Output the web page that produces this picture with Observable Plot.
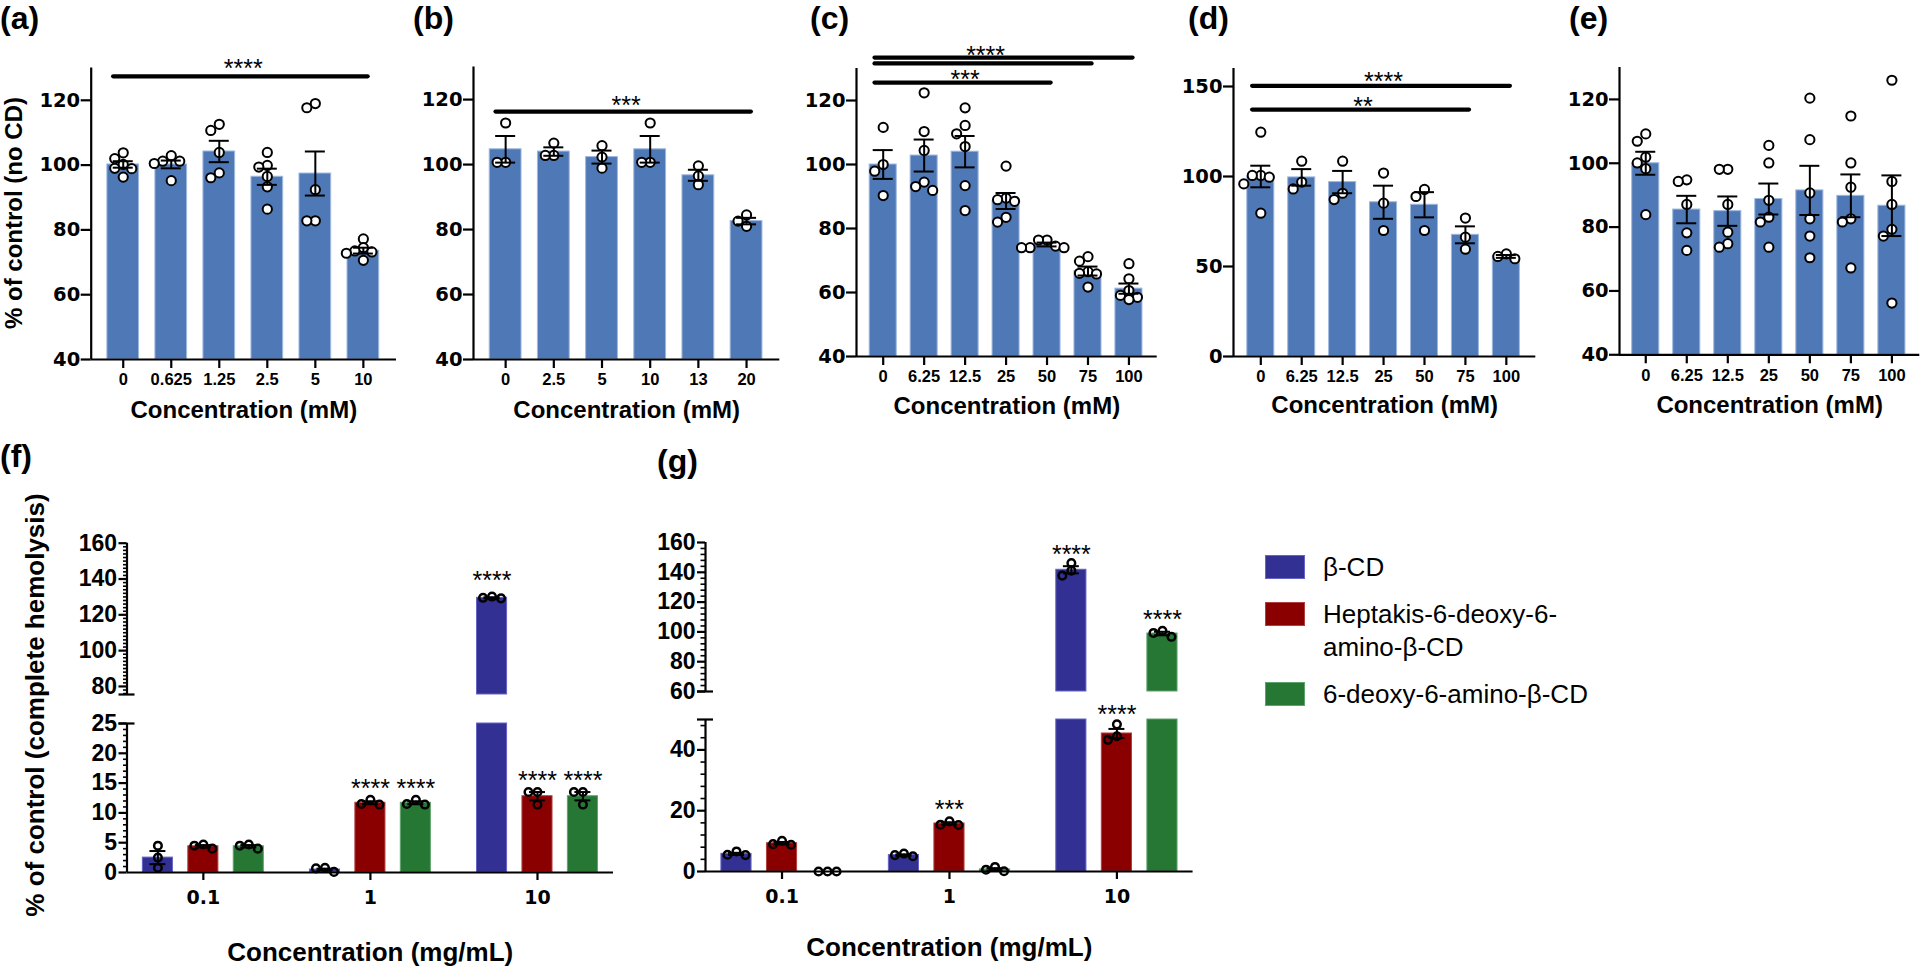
<!DOCTYPE html>
<html><head><meta charset="utf-8">
<script src="https://cdn.jsdelivr.net/npm/d3@7"></script>
<script src="https://cdn.jsdelivr.net/npm/@observablehq/plot@0.6"></script>
<style>
html,body{margin:0;padding:0;background:#fff;}
#root{position:relative;width:1920px;height:976px;overflow:hidden;font-family:"Liberation Sans",Arial,Helvetica,sans-serif;color:#000;}
.plab{position:absolute;font-weight:bold;font-size:32px;line-height:36px;white-space:nowrap;}
.ytitle{position:absolute;font-weight:bold;white-space:nowrap;transform:translate(-50%,-50%) rotate(-90deg);}
.lbox{position:absolute;width:40px;height:24px;box-sizing:border-box;}
.ltext{position:absolute;font-size:26px;line-height:33px;white-space:pre;}
</style></head><body><div id="root"></div><script>
// ---------------- DATA ----------------
// (a)
const aCats = ["0","0.625","1.25","2.5","5","10"];
const aMeans = [100.2, 100.2, 104.2, 96.4, 97.4, 73.6];
const aSem = [1.0, 1.2, 3.3, 2.5, 6.8, 0.9];
const aPoints = [
  [103.8, 102.0, 100.2, 99.0, 98.9, 96.3],
  [102.9, 101.2, 101.2, 100.5, 95.2],
  [112.6, 110.7, 103.9, 97.6, 96.1],
  [103.9, 99.9, 99.4, 96.5, 93.3, 86.4],
  [119.0, 117.7, 92.4, 82.8, 82.8],
  [77.2, 74.5, 73.5, 73.2, 72.8, 70.6]
];
const aSig = [[0, 5, 127.4]];
const aStars = [[0, 5, 131.4, "****"]];
// (b)
const bCats = ["0","2.5","5","10","13","20"];
const bMeans = [104.7, 104.0, 102.3, 104.7, 96.7, 82.6];
const bSem = [4.1, 1.3, 2.0, 4.1, 1.7, 1.0];
const bPoints = [
  [112.8, 100.7, 100.7],
  [106.6, 102.8, 102.8],
  [105.8, 102.3, 98.9],
  [112.8, 100.7, 100.7],
  [99.6, 96.5, 93.8],
  [84.5, 82.6, 81.0]
];
const bSig = [[0, 5, 116.3]];
const bStars = [[0, 5, 120.0, "***"]];
// (c)
const cCats = ["0","6.25","12.5","25","50","75","100"];
const cMeans = [100.0, 102.8, 104.0, 88.6, 75.0, 66.7, 61.2];
const cSem = [4.5, 5.0, 4.9, 2.5, 0.6, 1.4, 1.6];
const cPoints = [
  [111.6, 100.0, 97.9, 90.3],
  [122.4, 110.3, 104.4, 94.5, 93.1, 91.9],
  [117.7, 112.2, 109.6, 105.6, 93.4, 85.6],
  [99.5, 89.5, 89.0, 88.5, 83.5, 82.0],
  [76.4, 76.4, 74.5, 74.0, 74.0, 74.0],
  [71.2, 69.8, 66.5, 66.0, 65.8, 61.7],
  [69.0, 64.3, 60.6, 59.1, 58.5, 57.8]
];
const cSig = [[0, 6, 133.4], [0, 5, 131.6], [0, 4, 125.6]];
const cStars = [[0, 5, 135.9, "****"], [0, 4, 128.4, "***"]];
// (d)
const dCats = ["0","6.25","12.5","25","50","75","100"];
const dMeans = [100.0, 99.5, 96.9, 85.7, 84.3, 67.6, 55.6];
const dSem = [6.0, 4.6, 6.2, 9.2, 7.0, 4.7, 0.8];
const dPoints = [
  [124.6, 100.6, 100.6, 99.6, 95.9, 79.6],
  [108.5, 96.9, 93.1],
  [108.5, 90.7, 87.2],
  [101.9, 85.2, 70.0],
  [92.8, 88.9, 70.0],
  [76.9, 66.3, 59.6],
  [57.0, 55.6, 54.3]
];
const dSig = [[0, 6, 150.4], [0, 5, 137.2]];
const dStars = [[0, 6, 156.0, "****"], [0, 5, 142.2, "**"]];
// (e)
const eCats = ["0","6.25","12.5","25","50","75","100"];
const eMeans = [100.0, 85.5, 85.0, 88.8, 91.5, 89.8, 86.7];
const eSem = [3.6, 4.3, 4.6, 4.85, 7.7, 6.7, 9.5];
const ePoints = [
  [109.2, 106.9, 101.9, 100.1, 98.3, 83.9],
  [94.8, 94.3, 87.1, 78.2, 72.7],
  [98.1, 98.1, 87.1, 78.4, 74.8, 73.7],
  [105.6, 100.1, 88.4, 83.1, 81.6, 73.7],
  [120.4, 107.4, 90.7, 82.6, 77.2, 70.4],
  [114.8, 100.1, 92.5, 82.6, 81.6, 67.2],
  [126.0, 94.3, 87.1, 79.3, 77.2, 56.2]
];
// (f) and (g): series x group
const groups = ["0.1", "1", "10"];
const seriesNames = ["β-CD", "Heptakis-6-deoxy-6-amino-β-CD", "6-deoxy-6-amino-β-CD"];
const legendLabels = ["β-CD", "Heptakis-6-deoxy-6-\namino-β-CD", "6-deoxy-6-amino-β-CD"];
const fMeans = [[2.5, 0.5, 129.5], [4.4, 11.7, 12.8], [4.4, 11.7, 12.8]];
const fSem = [[1.1, 0.15, 0.3], [0.2, 0.25, 0.7], [0.2, 0.25, 0.7]];
const fPoints = [
  [[4.5, 2.5, 0.8], [0.1, 0.8, 0.7], [130.2, 129.2, 129.5]],
  [[4.0, 4.7, 4.5], [11.4, 12.2, 11.5], [13.5, 11.4, 13.5]],
  [[4.0, 4.7, 4.5], [11.4, 12.2, 11.5], [13.5, 11.4, 13.5]]
];
const fStars = [[1, 1, 15.0, "****"], [2, 1, 15.0, "****"], [1, 2, 16.4, "****"], [2, 2, 16.4, "****"], [0, 2, 142.0, "****"]];
const gMeans = [[5.8, 5.4, 141.7], [9.3, 15.8, 45.4], [0, 0.7, 98.9]];
const gSem = [[0.35, 0.25, 2.4], [0.4, 0.4, 1.5], [0, 0.4, 1.2]];
const gPoints = [
  [[6.6, 5.5, 5.4], [5.4, 5.9, 5.0], [146.2, 137.8, 141.1]],
  [[10.1, 8.8, 9.0], [16.5, 15.4, 15.3], [48.4, 43.3, 44.5]],
  [[0, 0, 0], [0.1, 1.5, 0.6], [100.7, 96.7, 99.3]]
];
const gStars = [[1, 1, 22.2, "***"], [0, 2, 155.6, "****"], [1, 2, 53.5, "****"], [2, 2, 112.0, "****"]];

// ---------------- STYLE ----------------
const SANS = "Liberation Sans, Arial, Helvetica, sans-serif";
const WIDE = "DejaVu Sans, Verdana, sans-serif";
const BAR = "#4f78b6", BAR_EDGE = "#9fb8de";
const SER_COLORS = ["#323092", "#8a0000", "#267634"];
const SER_EDGE = ["#6664c4", "#b04040", "#5fa36c"];
const AXW = 2.2;
const root = document.getElementById("root");

function place(el, left, top) {
  el.style.position = "absolute";
  el.style.left = left + "px";
  el.style.top = top + "px";
  root.appendChild(el);
}

// horizontal spreading of overlapping points (pixel units)
function swarm(vals, pyu, minDist, s) {
  const order = vals.map((v, i) => i).sort((a, b) => vals[b] - vals[a]);
  const placed = [], offs = vals.map(() => 0);
  const cands = [0];
  for (let k = 1; k < 6; k++) cands.push(-k * s, k * s);
  for (const i of order) {
    const py = -vals[i] * pyu;
    for (const o of cands) {
      if (placed.every(p => Math.hypot(p.x - o, p.y - py) >= minDist)) {
        offs[i] = o; placed.push({x: o, y: py}); break;
      }
    }
  }
  return offs;
}

function topPanel(c) {
  const H = 440;
  const step = (c.x1 - c.x0) / (c.xDomain[1] - c.xDomain[0]);
  const pyu = (c.y1 - c.y0) / (c.yDomain[1] - c.yDomain[0]);
  const bars = c.cats.map((k, i) => ({i, m: c.means[i], s: c.sem[i]}));
  const dots = [];
  c.points.forEach((vals, i) => {
    const offs = swarm(vals, pyu, 8.5, 8.5);
    vals.forEach((v, j) => dots.push({px: i + offs[j] / step, py: v}));
  });
  const hw = 0.33, cap = 10 / step;
  const sigData = (c.sig || []).map(([f, t, y]) => ({f, t, y}));
  const starData = (c.stars || []).map(([f, t, y, label]) => ({xm: (f + t) / 2, y, label}));
  const plot = Plot.plot({
    width: c.width, height: H,
    marginLeft: c.x0 - c.left, marginRight: c.left + c.width - c.x1,
    marginTop: c.y0, marginBottom: H - c.y1,
    x: {type: "linear", domain: c.xDomain, label: null},
    y: {type: "linear", domain: c.yDomain, label: null},
    style: {background: "transparent", overflow: "visible", fontFamily: SANS, color: "black"},
    marks: [
      Plot.rectY(bars, {x1: d => d.i - hw, x2: d => d.i + hw, y1: c.yDomain[0], y2: "m", fill: BAR, stroke: BAR_EDGE, strokeWidth: 1}),
      Plot.ruleX([c.xDomain[0]], {stroke: "black", strokeWidth: AXW}),
      Plot.ruleY([c.yDomain[0]], {stroke: "black", strokeWidth: AXW}),
      Plot.axisY(c.yTicks, {tickSize: 10, tickPadding: 1, strokeWidth: AXW, fontFamily: WIDE, fontWeight: "bold", fontSize: 19.5, label: null}),
      Plot.axisX(d3.range(c.cats.length), {tickSize: 9, tickPadding: 5, strokeWidth: AXW, tickFormat: i => c.cats[i], fontFamily: SANS, fontWeight: "bold", fontSize: 16.5, label: null}),
      Plot.dot(dots, {x: "px", y: "py", r: 4.6, fill: "white", stroke: "black", strokeWidth: 2}),
      Plot.ruleX(bars, {x: "i", y1: d => d.m - d.s, y2: d => d.m + d.s, stroke: "black", strokeWidth: 2}),
      Plot.ruleY(bars, {y: d => d.m + d.s, x1: d => d.i - cap, x2: d => d.i + cap, stroke: "black", strokeWidth: 2}),
      Plot.ruleY(bars, {y: d => d.m - d.s, x1: d => d.i - cap, x2: d => d.i + cap, stroke: "black", strokeWidth: 2}),
      Plot.ruleY(sigData, {y: "y", x1: d => d.f - 0.2, x2: d => d.t + 0.1, stroke: "black", strokeWidth: 4.2, strokeLinecap: "round"}),
      Plot.text(starData, {x: "xm", y: "y", text: "label", fontSize: 25, dy: 6, fontFamily: SANS, fill: "black"}),
      Plot.text(["Concentration (mM)"], {frameAnchor: "bottom", dy: c.titleDy, fontSize: 24, fontWeight: "bold", fontFamily: SANS, fill: "black"})
    ]
  });
  place(plot, c.left, 0);
}

function hemoSeg(P, seg, isLower) {
  const step = (P.x1 - P.x0) / (P.xDomain[1] - P.xDomain[0]);
  const pyu = (seg.y1 - seg.y0) / (seg.domain[1] - seg.domain[0]);
  const [lo, hi] = seg.domain;
  const split = P.segs[0].domain[0];
  const bars = [], errs = [], dots = [];
  P.means.forEach((row, s) => row.forEach((m, g) => {
    const cx = g + (s - 1) * 0.272;
    if (m > lo) bars.push({cx, top: Math.min(m, hi), s});
    if (m >= lo && m <= hi) {
      if (P.sem[s][g] > 0) errs.push({cx, m, e: P.sem[s][g]});
      const vals = P.points[s][g];
      const offs = swarm(vals, pyu, 7.5, 9);
      vals.forEach((v, j) => dots.push({x: cx + offs[j] / step, y: v}));
    }
  }));
  const stars = P.stars
    .filter(([s, g, y]) => isLower ? y < split : y >= split)
    .map(([s, g, y, label]) => ({cx: g + (s - 1) * 0.272, y, label}));
  const bw = 0.09, cap = 8 / step, brk = 8 / step, x0d = P.xDomain[0];
  const marks = [
    ...[0, 1, 2].map(s => Plot.rectY(bars.filter(b => b.s === s), {x1: b => b.cx - bw, x2: b => b.cx + bw, y1: lo, y2: "top", fill: SER_COLORS[s], stroke: SER_EDGE[s], strokeWidth: 1})),
    Plot.ruleX([x0d], {stroke: "black", strokeWidth: AXW}),
    Plot.ruleY([isLower ? hi : lo], {x1: x0d - brk, x2: x0d + brk, stroke: "black", strokeWidth: AXW}),
    Plot.axisY(seg.majors, {tickSize: 8, tickPadding: 2, strokeWidth: AXW, fontFamily: SANS, fontWeight: "bold", fontSize: 23, label: null}),
    Plot.axisY(seg.minors, {tickSize: seg.minorSize, tickPadding: 0, strokeWidth: 1.6, tickFormat: () => "", label: null}),
    Plot.dot(dots, {x: "x", y: "y", r: 3.8, fill: "none", stroke: "black", strokeWidth: 2.5}),
    Plot.ruleX(errs, {x: "cx", y1: e => e.m - e.e, y2: e => e.m + e.e, stroke: "black", strokeWidth: 2}),
    Plot.ruleY(errs, {y: e => e.m + e.e, x1: e => e.cx - cap, x2: e => e.cx + cap, stroke: "black", strokeWidth: 2}),
    Plot.ruleY(errs, {y: e => e.m - e.e, x1: e => e.cx - cap, x2: e => e.cx + cap, stroke: "black", strokeWidth: 2}),
    Plot.text(stars, {x: "cx", y: "y", text: "label", fontSize: 25, dy: 6, fontFamily: SANS, fill: "black"})
  ];
  if (isLower) {
    marks.push(
      Plot.ruleY([lo], {stroke: "black", strokeWidth: AXW}),
      Plot.axisX(d3.range(groups.length), {tickSize: 8, tickPadding: 10, strokeWidth: AXW, tickFormat: i => groups[i], fontFamily: WIDE, fontWeight: "bold", fontSize: 19, label: null}),
      Plot.text(["Concentration (mg/mL)"], {frameAnchor: "bottom", dy: P.titleDy, fontSize: 26, fontWeight: "bold", fontFamily: SANS, fill: "black"})
    );
  }
  const plot = Plot.plot({
    width: P.width, height: seg.height,
    marginLeft: P.x0 - P.left, marginRight: P.left + P.width - P.x1,
    marginTop: seg.y0 - seg.top, marginBottom: seg.top + seg.height - seg.y1,
    x: {type: "linear", domain: P.xDomain, label: null, axis: isLower ? undefined : null},
    y: {type: "linear", domain: seg.domain, label: null},
    style: {background: "transparent", overflow: "visible", fontFamily: SANS, color: "black"},
    marks
  });
  place(plot, P.left, seg.top);
}

// ---------------- TOP ROW ----------------
const t40 = [40, 60, 80, 100, 120];
topPanel({left: 0, width: 400, x0: 90.7, x1: 396, y0: 67.4, y1: 359, xDomain: [-0.667, 5.69], yDomain: [40, 130], yTicks: t40,
  cats: aCats, means: aMeans, sem: aSem, points: aPoints, sig: aSig, stars: aStars, titleDy: 58});
topPanel({left: 402.7, width: 380, x0: 472.7, x1: 779, y0: 66.6, y1: 359, xDomain: [-0.667, 5.69], yDomain: [40, 130], yTicks: t40,
  cats: bCats, means: bMeans, sem: bSem, points: bPoints, sig: bSig, stars: bStars, titleDy: 58});
topPanel({left: 786, width: 375, x0: 856, x1: 1156.7, y0: 68, y1: 356, xDomain: [-0.652, 6.69], yDomain: [40, 130], yTicks: t40,
  cats: cCats, means: cMeans, sem: cSem, points: cPoints, sig: cSig, stars: cStars, titleDy: 57});
topPanel({left: 1162.7, width: 376, x0: 1232.7, x1: 1535, y0: 68, y1: 356, xDomain: [-0.667, 6.72], yDomain: [0, 160], yTicks: [0, 50, 100, 150],
  cats: dCats, means: dMeans, sem: dSem, points: dPoints, sig: dSig, stars: dStars, titleDy: 56});
topPanel({left: 1548.7, width: 371.3, x0: 1618.7, x1: 1919, y0: 67, y1: 354.3, xDomain: [-0.64, 6.68], yDomain: [40, 130], yTicks: t40,
  cats: eCats, means: eMeans, sem: eSem, points: ePoints, titleDy: 58.7});

// ---------------- BOTTOM ROW ----------------
const F = {left: 0, width: 620, x0: 126.5, x1: 613, xDomain: [-0.457, 2.455], titleDy: 88,
  means: fMeans, sem: fSem, points: fPoints, stars: fStars,
  segs: [
    {top: 500, height: 200, y0: 542.7, y1: 694, domain: [75.5, 160], majors: [80, 100, 120, 140, 160],
     minors: d3.range(76, 160, 2).filter(v => v % 20 !== 0), minorSize: 3.5},
    {top: 700, height: 276, y0: 723, y1: 872, domain: [0, 25], majors: [0, 5, 10, 15, 20, 25],
     minors: d3.range(1, 25, 1).filter(v => v % 5 !== 0), minorSize: 3.5}
  ]};
const G = {left: 630, width: 570, x0: 705, x1: 1192.6, xDomain: [-0.457, 2.455], titleDy: 84,
  means: gMeans, sem: gSem, points: gPoints, stars: gStars,
  segs: [
    {top: 500, height: 200, y0: 542, y1: 691, domain: [60, 160], majors: [60, 80, 100, 120, 140, 160],
     minors: d3.range(64, 160, 4).filter(v => v % 20 !== 0), minorSize: 4.5},
    {top: 700, height: 276, y0: 719, y1: 871, domain: [0, 50], majors: [0, 20, 40],
     minors: d3.range(4, 50, 4).filter(v => v % 20 !== 0), minorSize: 4.5}
  ]};
[F, G].forEach(P => { hemoSeg(P, P.segs[0], false); hemoSeg(P, P.segs[1], true); });

// ---------------- LABELS & LEGEND ----------------
[["(a)", 0, 0], ["(b)", 413, 0], ["(c)", 810, 0], ["(d)", 1188, 0], ["(e)", 1569, 0], ["(f)", 0, 438], ["(g)", 657, 443]]
  .forEach(([t, x, y]) => { const d = document.createElement("div"); d.className = "plab"; d.textContent = t; d.style.left = x + "px"; d.style.top = y + "px"; root.appendChild(d); });

function yTitle(text, cx, cy, size) {
  const d = document.createElement("div");
  d.className = "ytitle"; d.textContent = text;
  d.style.left = cx + "px"; d.style.top = cy + "px"; d.style.fontSize = size + "px";
  root.appendChild(d);
}
yTitle("% of control (no CD)", 14, 213, 24);
yTitle("% of control (complete hemolysis)", 35, 705, 26);

const boxTops = [555, 602, 682];
seriesNames.forEach((name, i) => {
  const b = document.createElement("div");
  b.className = "lbox";
  b.style.left = "1265px"; b.style.top = boxTops[i] + "px";
  b.style.background = SER_COLORS[i]; b.style.border = "1px solid " + SER_EDGE[i];
  b.title = name;
  root.appendChild(b);
  const t = document.createElement("div");
  t.className = "ltext"; t.textContent = legendLabels[i];
  t.style.left = "1323px"; t.style.top = (boxTops[i] + 12 - 16.5) + "px";
  root.appendChild(t);
});
</script></body></html>
